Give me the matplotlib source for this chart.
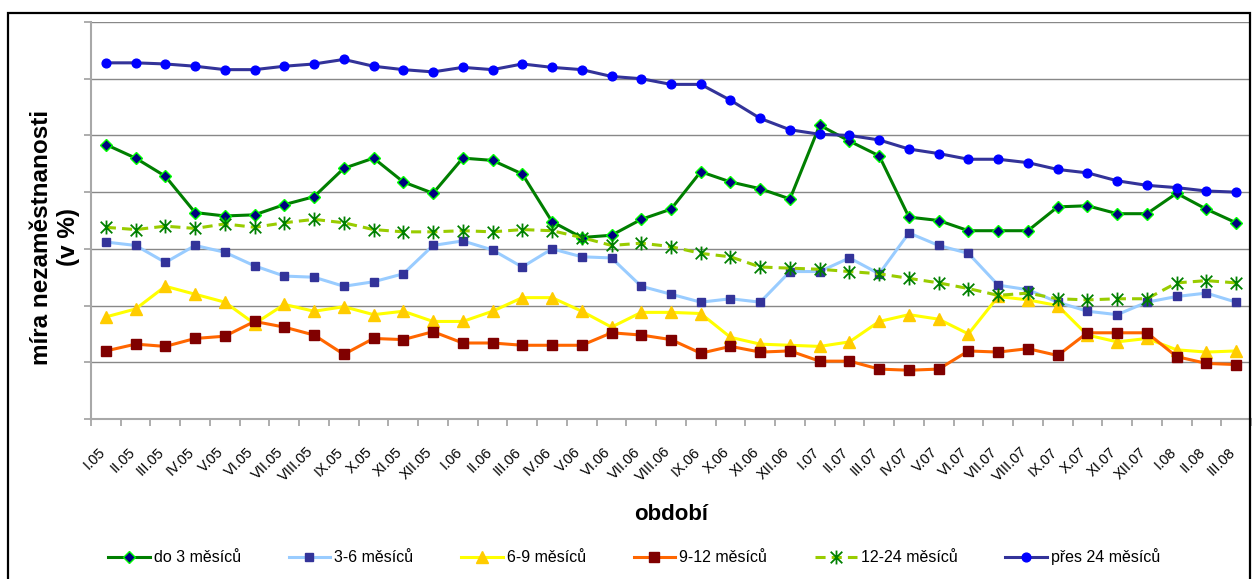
import matplotlib
matplotlib.use('Agg')
import matplotlib.pyplot as plt
from matplotlib.path import Path
from matplotlib.patches import Rectangle
from matplotlib.transforms import ScaledTranslation

plt.rcParams['font.family'] = ['Liberation Sans', 'DejaVu Sans']

# období (měsíc.rok)
roman = ['I', 'II', 'III', 'IV', 'V', 'VI', 'VII', 'VIII', 'IX', 'X', 'XI', 'XII']
obdobi = [f'{m}.{y}' for y in ['05', '06', '07'] for m in roman] + ['I.08', 'II.08', 'III.08']

# míra nezaměstnanosti podle délky evidence (v %)
do_3 = [24.2, 23.0, 21.4, 18.2, 17.9, 18.0, 18.9, 19.6, 22.1, 23.0,
        20.9, 19.9, 23.0, 22.8, 21.6, 17.4, 16.0, 16.2, 17.6, 18.5,
        21.8, 20.9, 20.3, 19.4, 25.9, 24.5, 23.2, 17.8, 17.5, 16.6,
        16.6, 16.6, 18.7, 18.8, 18.1, 18.1, 19.9, 18.5, 17.3]
m3_6 = [15.6, 15.3, 13.8, 15.3, 14.7, 13.5, 12.6, 12.5, 11.7, 12.1,
        12.8, 15.3, 15.7, 14.9, 13.4, 15.0, 14.3, 14.2, 11.7, 11.0,
        10.3, 10.6, 10.3, 13.0, 13.0, 14.2, 12.8, 16.4, 15.3, 14.6,
        11.8, 11.4, 10.3, 9.5, 9.2, 10.3, 10.8, 11.1, 10.3]
m6_9 = [9.0, 9.7, 11.7, 11.0, 10.3, 8.4, 10.1, 9.5, 9.9, 9.2,
        9.5, 8.6, 8.6, 9.5, 10.7, 10.7, 9.5, 8.1, 9.4, 9.4,
        9.3, 7.2, 6.6, 6.5, 6.4, 6.8, 8.6, 9.2, 8.8, 7.5,
        10.8, 10.5, 10.0, 7.4, 6.8, 7.1, 6.1, 5.9, 6.0]
m9_12 = [6.0, 6.6, 6.4, 7.1, 7.3, 8.6, 8.1, 7.4, 5.7, 7.1,
         7.0, 7.7, 6.7, 6.7, 6.5, 6.5, 6.5, 7.6, 7.4, 7.0,
         5.8, 6.4, 5.9, 6.0, 5.1, 5.1, 4.4, 4.3, 4.4, 6.0,
         5.9, 6.2, 5.6, 7.6, 7.6, 7.6, 5.5, 4.9, 4.8]
m12_24 = [16.9, 16.7, 17.0, 16.8, 17.2, 16.9, 17.3, 17.6, 17.3, 16.7,
          16.5, 16.5, 16.6, 16.5, 16.7, 16.6, 16.0, 15.3, 15.5, 15.2,
          14.6, 14.3, 13.4, 13.3, 13.2, 13.0, 12.8, 12.4, 12.0, 11.5,
          10.9, 11.1, 10.6, 10.5, 10.6, 10.6, 12.0, 12.2, 12.0]
pres_24 = [31.4, 31.4, 31.3, 31.1, 30.8, 30.8, 31.1, 31.3, 31.7, 31.1,
           30.8, 30.6, 31.0, 30.8, 31.3, 31.0, 30.8, 30.2, 30.0, 29.5,
           29.5, 28.1, 26.5, 25.5, 25.1, 25.0, 24.6, 23.8, 23.4, 22.9,
           22.9, 22.6, 22.0, 21.7, 21.0, 20.6, 20.4, 20.1, 20.0]

# hvězdička jako v Excelu (X + svislá čárka)
star = Path([(-1, -1), (1, 1), (-1, 1), (1, -1), (0, -1.2), (0, 1.2)],
            [Path.MOVETO, Path.LINETO, Path.MOVETO, Path.LINETO, Path.MOVETO, Path.LINETO])

fig = plt.figure(figsize=(12.52, 5.79), dpi=100)
ax = fig.add_axes([91 / 1252, 1 - 419 / 579, 1160 / 1252, 397 / 579])

x = list(range(len(obdobi)))
lw = 2.2
ax.plot(x, do_3, color='#007F00', lw=lw, marker='D', ms=6.0,
        mfc='#000080', mec='#00FF00', mew=1.0, label='do 3 měsíců')
ax.plot(x, m3_6, color='#99CCFF', lw=lw, marker='s', ms=6.2,
        mfc='#333399', mec='#333399', label='3-6 měsíců')
ax.plot(x, m6_9, color='#FFFF00', lw=lw, marker='^', ms=8.0,
        mfc='#FFCC00', mec='#FFCC00', label='6-9 měsíců')
ax.plot(x, m9_12, color='#FF6600', lw=lw, marker='s', ms=7.8,
        mfc='#800000', mec='#800000', label='9-12 měsíců')
ax.plot(x, m12_24, color='#99CC00', lw=lw, ls=(0, (3.3, 2.0)), marker=star, ms=10,
        mfc='none', mec='#008000', mew=1.3, label='12-24 měsíců')
ax.plot(x, pres_24, color='#333399', lw=lw, marker='o', ms=6.3,
        mfc='#0000FF', mec='#0000FF', label='přes 24 měsíců')

ax.set_xlim(-0.5, len(obdobi) - 0.5)
ax.set_ylim(0, 35)
ax.set_yticks(range(0, 36, 5))
ax.set_yticklabels([])
ax.grid(axis='y', color='#888888', lw=1.0)
ax.set_axisbelow(True)

ax.set_xticks(x)
ax.set_xticklabels(obdobi, rotation=45, ha='right', va='center',
                   rotation_mode='anchor', fontsize=10.5)
ax.set_xticks([i - 0.5 for i in range(len(obdobi) + 1)], minor=True)
ax.tick_params(axis='x', which='major', length=0, pad=22)
ax.tick_params(axis='x', which='minor', length=5, color='#A0A0A0', width=1.2)
ax.tick_params(axis='y', length=5, color='#A0A0A0', width=1.2)
off = ScaledTranslation(-3 / 100, 0, fig.dpi_scale_trans)
for lab in ax.get_xticklabels():
    lab.set_transform(lab.get_transform() + off)

for s in ['top', 'right']:
    ax.spines[s].set_visible(False)
for s in ['left', 'bottom']:
    ax.spines[s].set_color('#A8A8A8')
    ax.spines[s].set_linewidth(1.5)

fig.text(671 / 1252, 1 - 515 / 579, 'období', fontsize=16, fontweight='bold',
         ha='center', va='center')
fig.text(55 / 1252, 1 - 237 / 579, 'míra nezaměstnanosti\n(v %)', fontsize=17.5,
         fontweight='bold', rotation=90, ha='center', va='center',
         multialignment='center', linespacing=1.2)

fig.legend(loc='center', bbox_to_anchor=(634 / 1252, 1 - 557 / 579), ncol=6,
           frameon=False, fontsize=11.5, handlelength=2.6, handletextpad=0.25,
           columnspacing=3.0)

fig.patches.append(Rectangle((8 / 1252, -0.02), 1242 / 1252, 1 - 13 / 579 + 0.02,
                             transform=fig.transFigure, fill=False,
                             edgecolor='black', lw=1.6))

fig.savefig('out.png', dpi=100)
